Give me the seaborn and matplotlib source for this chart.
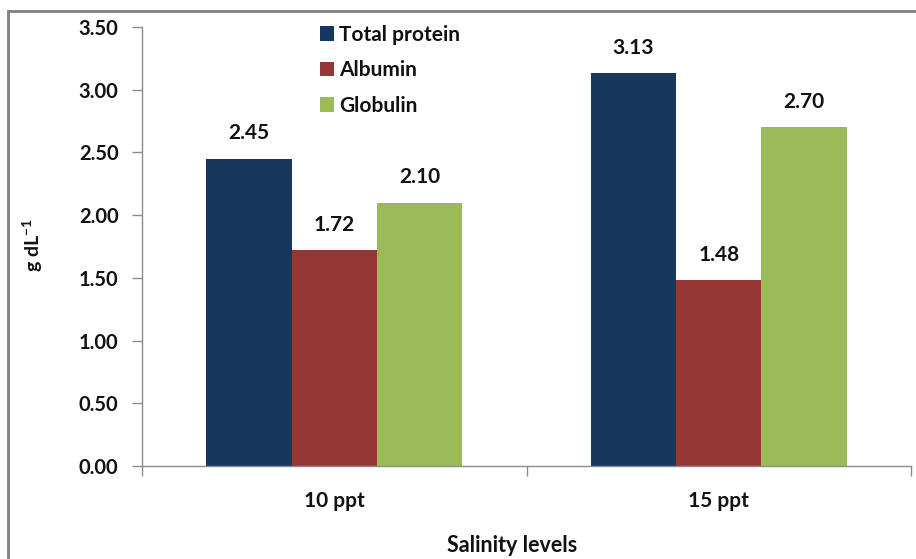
import matplotlib
matplotlib.use("Agg")
import matplotlib.pyplot as plt
import seaborn as sns
import pandas as pd
from matplotlib.patches import Rectangle
from matplotlib.ticker import FixedLocator

# Serum protein fractions by salinity level
salinity = ["10 ppt", "15 ppt"]
series = ["Total protein", "Albumin", "Globulin"]
total_protein = [2.45, 3.13]
albumin = [1.72, 1.48]
globulin = [2.10, 2.70]
colors = ["#17375E", "#953735", "#9BBB59"]

df = pd.DataFrame({
    "Salinity": salinity * 3,
    "Fraction": [s for s in series for _ in salinity],
    "Value": total_protein + albumin + globulin,
})

sns.set_theme(style="white")
plt.rcParams["font.family"] = ["Lato", "DejaVu Sans"]
plt.rcParams["font.weight"] = "bold"
plt.rcParams["mathtext.fontset"] = "custom"
plt.rcParams["mathtext.rm"] = "Lato:bold"
plt.rcParams["mathtext.it"] = "Lato:bold"
plt.rcParams["mathtext.bf"] = "Lato:bold"

TXT = "#111111"
W, H = 916, 559
fig = plt.figure(figsize=(W / 100, H / 100), dpi=100)
fig.patch.set_facecolor("white")
ax = fig.add_axes([142 / W, (H - 466) / H, (911 - 142) / W, (466 - 27) / H])

sns.barplot(data=df, x="Salinity", y="Value", hue="Fraction",
            palette=colors, width=0.666, saturation=1, ax=ax,
            errorbar=None, legend=True, linewidth=0, edgecolor="none")

ax.set_xlim(-0.5, 1.5)
ax.set_ylim(0, 3.5)
ax.set_yticks([0, 0.5, 1.0, 1.5, 2.0, 2.5, 3.0, 3.5])
ax.set_yticklabels([f"{v:.2f}" for v in ax.get_yticks()], fontsize=14.5,
                   fontweight="bold", color=TXT)
ax.tick_params(axis="y", which="major", direction="out", length=7, width=1,
               color="#8c8c8c", pad=10, left=True)
ax.tick_params(axis="x", which="major", length=0, pad=18, labelsize=15,
               labelcolor=TXT)
for lab in ax.get_xticklabels():
    lab.set_fontweight("bold")
ax.xaxis.set_minor_locator(FixedLocator([-0.5, 0.5, 1.5]))
ax.tick_params(axis="x", which="minor", direction="out", length=7, width=1,
               color="#8c8c8c", bottom=True)

for side in ["top", "right"]:
    ax.spines[side].set_visible(False)
for side in ["left", "bottom"]:
    ax.spines[side].set_color("#8c8c8c")
    ax.spines[side].set_linewidth(1)

ax.set_xlabel("")
ax.set_ylabel("")

# Value labels above each bar
for cont in ax.containers:
    ax.bar_label(cont, fmt="%.2f", padding=11, fontsize=15, fontweight="bold",
                 color=TXT)

# Legend
handles, labels = ax.get_legend_handles_labels()
leg = ax.legend(handles, labels, loc="upper left", bbox_to_anchor=(0.22, 1.024),
                frameon=False, fontsize=15, handlelength=0.7, handleheight=0.7,
                handletextpad=0.25, labelspacing=0.75, borderaxespad=0)
for t in leg.get_texts():
    t.set_fontweight("bold")
    t.set_color(TXT)

# Axis titles
fig.text(33 / W, 1 - 245 / H, "g dL$^{-1}$", rotation=90, ha="center", va="center",
         fontsize=14, fontweight="bold", color=TXT)
fig.text(512 / W, 1 - 552 / H, "Salinity levels", ha="center", va="baseline",
         fontsize=15.5, fontweight="bold", color=TXT)

# Chart area border
fig.add_artist(Rectangle((8 / W, -0.05), 1.0, 1.05 - 11 / H, transform=fig.transFigure,
                         fill=False, edgecolor="#7f7f7f", linewidth=2))

fig.savefig("out.png", dpi=100)
